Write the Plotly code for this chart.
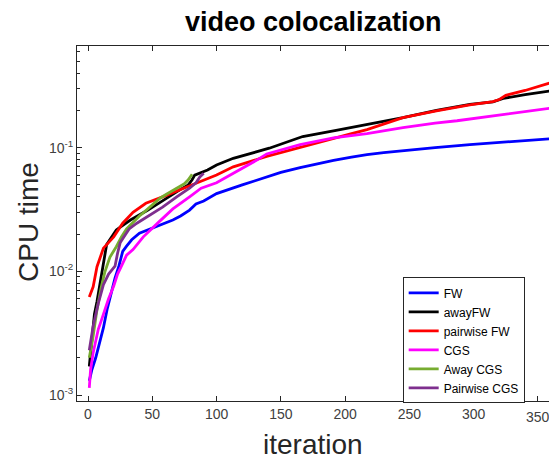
import plotly.graph_objects as go

# ---------------- data ----------------
fw_iter = [1, 3, 6, 9, 12, 15, 18, 21, 24, 27, 30, 34, 40, 45, 53, 60, 66, 72, 79, 84, 90, 100, 108, 120, 130, 139, 150, 165, 180, 191, 205, 217, 230, 243, 270, 297, 330, 360]
fw_time = [0.0013, 0.0016, 0.002, 0.0026, 0.0035, 0.005, 0.0068, 0.0088, 0.011, 0.0145, 0.016, 0.018, 0.0203, 0.0213, 0.023, 0.0243, 0.026, 0.028, 0.0313, 0.035, 0.037, 0.0425, 0.0455, 0.050, 0.054, 0.058, 0.063, 0.069, 0.075, 0.079, 0.084, 0.088, 0.091, 0.094, 0.100, 0.106, 0.112, 0.118]

away_iter = [1, 3, 5, 7, 10, 12, 14.5, 22, 33, 46, 59, 72, 78, 81, 83, 86, 93, 100, 113, 141, 167, 193, 219, 245, 271, 297, 315, 323, 340, 360]
away_time = [0.0017, 0.003, 0.0045, 0.0057, 0.0088, 0.012, 0.0165, 0.0216, 0.026, 0.031, 0.038, 0.046, 0.050, 0.055, 0.060, 0.062, 0.066, 0.0725, 0.082, 0.099, 0.123, 0.138, 0.155, 0.175, 0.200, 0.224, 0.235, 0.250, 0.268, 0.288]

pair_iter = [1, 2, 4, 7, 12, 20, 27, 35, 45, 58, 72, 85, 100, 113, 139, 165, 191, 205, 217, 245, 271, 297, 315, 320, 325, 340, 360]
pair_time = [0.0062, 0.0066, 0.0075, 0.0109, 0.0154, 0.019, 0.0245, 0.030, 0.0355, 0.040, 0.0455, 0.052, 0.060, 0.070, 0.085, 0.101, 0.120, 0.130, 0.140, 0.175, 0.198, 0.222, 0.236, 0.245, 0.265, 0.290, 0.335]

cgs_iter = [1, 2, 4, 6, 8, 10, 13, 16, 20, 23, 26, 30, 35, 43, 55, 66, 79, 88, 100, 113, 125, 131, 139, 165, 191, 217, 245, 270, 287, 300, 330, 360]
cgs_time = [0.00114, 0.0016, 0.0022, 0.0028, 0.0034, 0.0039, 0.0049, 0.006, 0.0076, 0.0095, 0.011, 0.0135, 0.015, 0.019, 0.025, 0.032, 0.040, 0.047, 0.052, 0.062, 0.072, 0.079, 0.089, 0.106, 0.120, 0.130, 0.145, 0.158, 0.165, 0.172, 0.190, 0.209]

acgs_iter = [1, 4, 7, 10, 13, 17, 22, 26, 30, 35, 40, 45, 51, 56, 61, 66, 71, 75, 78, 80, 81]
acgs_time = [0.002, 0.003, 0.0049, 0.0072, 0.0098, 0.013, 0.0158, 0.019, 0.022, 0.025, 0.028, 0.031, 0.035, 0.039, 0.042, 0.045, 0.048, 0.051, 0.055, 0.059, 0.061]

pcgs_iter = [1, 4, 8, 12, 16, 19, 21, 23, 25, 28, 32, 38, 48, 58, 69, 79, 84, 87, 90]
pcgs_time = [0.0023, 0.0036, 0.0055, 0.0078, 0.0095, 0.0105, 0.011, 0.014, 0.017, 0.019, 0.022, 0.0245, 0.0286, 0.033, 0.040, 0.047, 0.052, 0.058, 0.062]

series = [
    ("FW", fw_iter, fw_time, "#0000FF"),
    ("awayFW", away_iter, away_time, "#000000"),
    ("pairwise FW", pair_iter, pair_time, "#FF0000"),
    ("CGS", cgs_iter, cgs_time, "#FF00FF"),
    ("Away CGS", acgs_iter, acgs_time, "#77AC30"),
    ("Pairwise CGS", pcgs_iter, pcgs_time, "#7E2F8E"),
]

x_ticks = [0, 50, 100, 150, 200, 250, 300, 350]
x_ticktext = ["0", "50", "100", "150", "200", "250", "300", ""]
x_edge_label = "350"   # drawn separately: it touches the right border of the picture
y_ticks = [0.001, 0.01, 0.1]
y_ticktext = ["10<sup>-3</sup>", "10<sup>-2</sup>", "10<sup>-1</sup>"]
y_minor = [m * d for d in (0.001, 0.01, 0.1) for m in range(2, 10)] + [0.2, 0.3, 0.4, 0.5, 0.6]

fig = go.Figure()
for name, xs, ys, col in series:
    fig.add_trace(go.Scatter(x=xs, y=ys, mode="lines", name=name,
                             line=dict(color=col, width=2.8)))

axis_col = "#262626"
tick_col = "#404040"
font_family = "Liberation Sans, Arial, sans-serif"

fig.update_layout(
    width=549, height=459,
    margin=dict(l=77, r=0, t=46, b=58),
    paper_bgcolor="white", plot_bgcolor="white",
    font=dict(family=font_family, color=axis_col),
    showlegend=True,
    legend=dict(x=0.69, y=0.348, xanchor="left", yanchor="top",
                bgcolor="white", bordercolor=axis_col, borderwidth=1,
                font=dict(size=12, color="#000000"), tracegroupgap=0),
    annotations=[
        dict(text="<b>video colocalization</b>", xref="paper", yref="paper",
             x=0.5, y=(401 - 22) / 355, xanchor="center", yanchor="middle",
             showarrow=False, font=dict(size=27, color="#000000")),
        dict(text="iteration", xref="paper", yref="paper",
             x=0.5, y=(401 - 444) / 355, xanchor="center", yanchor="middle",
             showarrow=False, font=dict(size=28, color=axis_col)),
        dict(text="CPU time", xref="paper", yref="paper",
             x=(28 - 77) / 472, y=(401 - 222) / 355, xanchor="center", yanchor="middle",
             textangle=-90, showarrow=False, font=dict(size=28, color=axis_col)),
        dict(text=x_edge_label, xref="x", yref="paper", x=x_ticks[-1],
             y=(401 - 417) / 355, xanchor="center", yanchor="middle",
             showarrow=False, font=dict(size=14, color=tick_col)),
    ],
)

fig.update_xaxes(
    range=[-8.56, 358.6], tickvals=x_ticks, ticktext=x_ticktext, ticks="inside", ticklen=5,
    tickcolor=axis_col, showline=True, linecolor=axis_col, linewidth=1,
    mirror="ticks", showgrid=False, zeroline=False,
    tickfont=dict(size=14, color=tick_col),
)
fig.update_yaxes(
    type="log", range=[-3.0485, -0.178], tickvals=y_ticks, ticktext=y_ticktext,
    ticks="inside", ticklen=5, tickcolor=axis_col, showline=True,
    linecolor=axis_col, linewidth=1, mirror=False, showgrid=False, zeroline=False,
    tickfont=dict(size=14, color=tick_col),
    minor=dict(tickvals=y_minor, ticks="inside", ticklen=3,
               tickcolor=axis_col, showgrid=False),
)

fig.write_html("out.html")
